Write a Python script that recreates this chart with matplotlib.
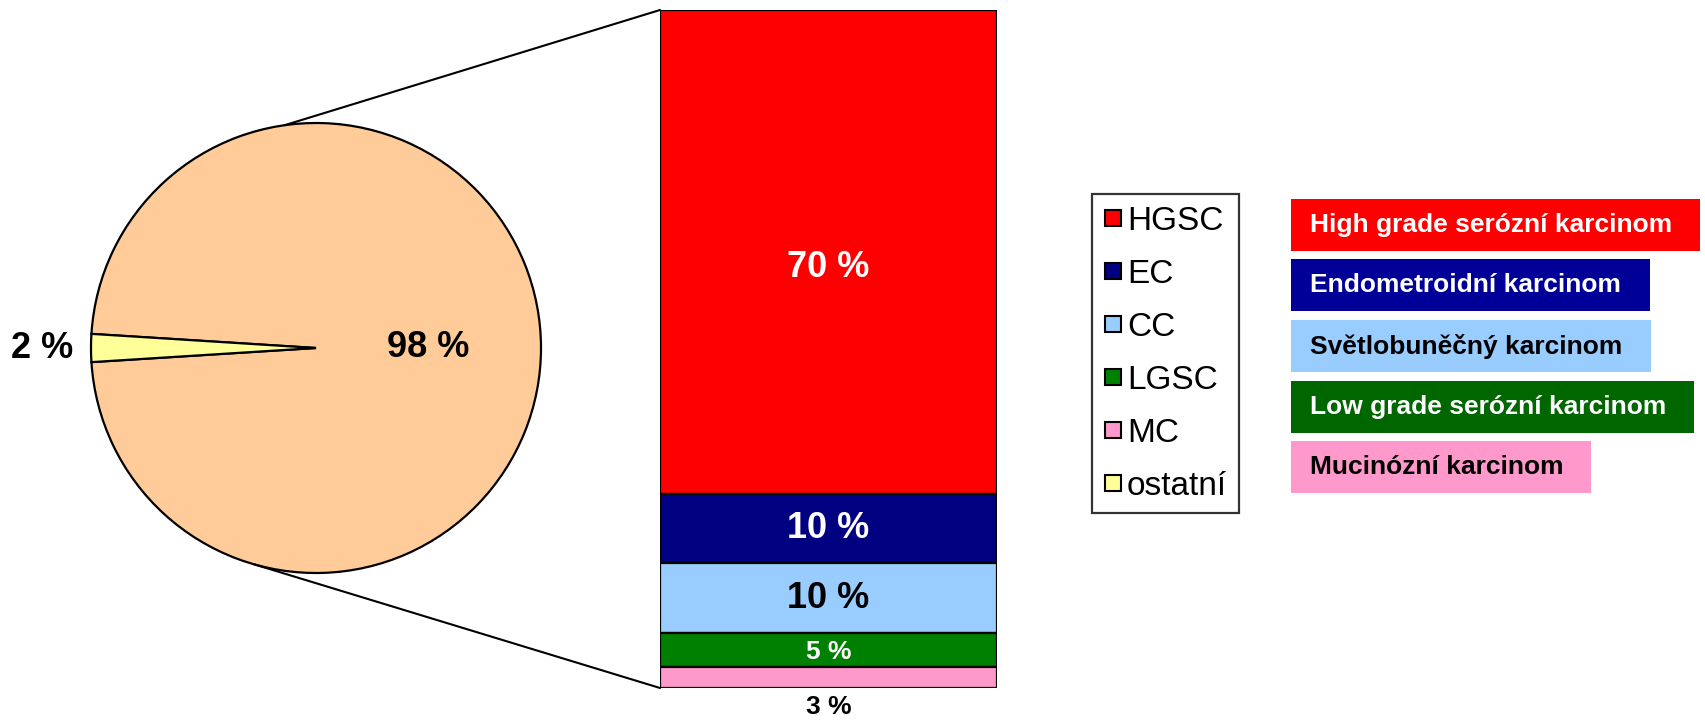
import numpy as np
import matplotlib
matplotlib.use("Agg")
import matplotlib.pyplot as plt
from matplotlib.patches import Rectangle, ConnectionPatch
from matplotlib.lines import Line2D

plt.rcParams['font.family'] = ['Liberation Sans', 'DejaVu Sans']

# ---- data ----
pie_labels = ['typy karcinomu', 'ostatní']
pie_values = [98, 2]
pie_colors = ['#FFCC99', '#FFFF99']

bar_labels = ['HGSC', 'EC', 'CC', 'LGSC', 'MC']
bar_values = [70, 10, 10, 5, 3]
bar_colors = ['#FF0000', '#000080', '#99CCFF', '#008000', '#FF99CC']
bar_text_colors = ['white', 'white', 'black', 'white', 'black']

legend_labels = ['HGSC', 'EC', 'CC', 'LGSC', 'MC', 'ostatní']
legend_colors = bar_colors + ['#FFFF99']

desc_labels = ['High grade serózní karcinom', 'Endometroidní karcinom',
               'Světlobuněčný karcinom', 'Low grade serózní karcinom',
               'Mucinózní karcinom']
desc_colors = ['#FF0000', '#000099', '#99CCFF', '#006600', '#FF99CC']
desc_text_colors = ['white', 'white', 'black', 'white', 'black']

# ---- figure ----
W, H = 1705, 720
fig = plt.figure(figsize=(W / 100, H / 100), dpi=100)

def rect(x0, y0, x1, y1):
    return [x0 / W, 1 - y1 / H, (x1 - x0) / W, (y1 - y0) / H]

# pie
ax_pie = fig.add_axes(rect(91, 123, 541, 573))
start = 180 + 360 * pie_values[1] / sum(pie_values) / 2
wedges, texts, autotexts = ax_pie.pie(
    pie_values, colors=pie_colors, startangle=start, counterclock=True,
    wedgeprops=dict(edgecolor='black', linewidth=1.6),
    labels=['', f'{pie_values[1]} %'], labeldistance=1.08,
    autopct=lambda p: f'{p:.0f} %' if p > 50 else '', pctdistance=0.5,
    textprops=dict(fontsize=26, fontweight='bold', color='black'))
for t in texts:
    t.set_ha('right')
ax_pie.set_xlim(-1, 1)
ax_pie.set_ylim(-1, 1)
ax_pie.set_aspect('auto')
ax_pie.axis('off')

# bar
ax_bar = fig.add_axes(rect(660, 10, 997, 688))
total = sum(bar_values)
# stack: HGSC on top, MC at bottom
bottoms = [sum(bar_values[i + 1:]) for i in range(len(bar_values))]
ax_bar.bar([0] * len(bar_values), bar_values, bottom=bottoms, width=1.0,
           color=bar_colors, edgecolor='black', linewidth=1.6)
ax_bar.set_xlim(-0.5, 0.5)
ax_bar.set_ylim(0, total)
ax_bar.axis('off')
for v, b, tc in zip(bar_values, bottoms, bar_text_colors):
    if v >= 50:
        ax_bar.text(0, b + v / 2 - 2.2, f'{v} %', ha='center', va='center',
                    fontsize=26, fontweight='bold', color=tc)
    elif v >= 10:
        ax_bar.text(0, b + v / 2, f'{v} %', ha='center', va='center',
                    fontsize=26, fontweight='bold', color=tc)
    elif v >= 5:
        ax_bar.text(0, b + v / 2 - 0.3, f'{v} %', ha='center', va='center',
                    fontsize=19, fontweight='bold', color=tc)
    else:
        ax_bar.text(0, b - 1.0, f'{v} %', ha='center', va='top',
                    fontsize=19, fontweight='bold', color='black')

# connector lines
for ang, ybar in [(98, total), (254, 0)]:
    a = np.deg2rad(ang)
    con = ConnectionPatch(xyA=(np.cos(a), np.sin(a)), coordsA=ax_pie.transData,
                          xyB=(-0.5, ybar), coordsB=ax_bar.transData,
                          color='black', linewidth=1.5)
    fig.add_artist(con)

# legend
handles = [Line2D([], [], linestyle='none', marker='s', markersize=11,
                  markerfacecolor=c, markeredgecolor='black', markeredgewidth=1.5)
           for c in legend_colors]
leg = fig.legend(handles, legend_labels, loc='upper left',
                 bbox_to_anchor=(1092 / W, 1 - 194 / H), fontsize=24,
                 frameon=True, fancybox=False, edgecolor='black',
                 labelspacing=0.66, handlelength=0.55, handletextpad=0.15,
                 borderpad=0.35, borderaxespad=0)
leg.get_frame().set_linewidth(1.6)

# description boxes
tops = [199, 259, 320, 381, 441]
rights = [1700, 1650, 1651, 1694, 1591]
for lab, c, tc, t, r in zip(desc_labels, desc_colors, desc_text_colors, tops, rights):
    fig.patches.append(Rectangle((1291 / W, 1 - (t + 52) / H), (r - 1291) / W, 52 / H,
                                 transform=fig.transFigure, facecolor=c,
                                 edgecolor='none'))
    fig.text(1310 / W, 1 - (t + 26) / H, lab, ha='left', va='center',
             fontsize=19, fontweight='bold', color=tc)

fig.savefig('out.png', dpi=100)
